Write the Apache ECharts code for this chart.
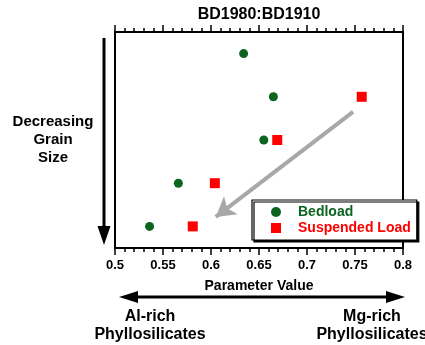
<!DOCTYPE html>
<html><head><meta charset="utf-8">
<script src="https://cdn.jsdelivr.net/npm/echarts@6/dist/echarts.min.js"></script>
<style>html,body{margin:0;padding:0;background:#fff}#c{width:425px;height:345px}</style>
</head><body><div id="c"></div>
<script>
// Data
const seriesNames = ['Bedload', 'Suspended Load'];
const bedloadX = [0.634, 0.665, 0.655, 0.566, 0.536];
const bedloadLevel = [1, 2, 3, 4, 5];
const suspendedX = [0.757, 0.669, 0.604, 0.581];
const suspendedLevel = [2, 3, 4, 5];
const xTicks = [0.5, 0.55, 0.6, 0.65, 0.7, 0.75, 0.8];
const trendArrow = [[0.748, 2.35], [0.605, 4.78]];

const GREEN = '#0b6420', RED = '#ff0000';
const FONT = 'Liberation Sans, Arial, sans-serif';
const chart = echarts.init(document.getElementById('c'), null, {renderer: 'canvas'});

const bed = bedloadX.map((x, i) => [x, bedloadLevel[i]]);
const sus = suspendedX.map((x, i) => [x, suspendedLevel[i]]);

chart.setOption({
  animation: false,
  title: {text: 'BD1980:BD1910', left: 254, top: 2, textAlign: 'center',
    textStyle: {fontFamily: FONT, fontWeight: 'bold', fontSize: 16, color: '#000'}},
  grid: {left: 115, top: 32, width: 288, height: 216},
  xAxis: [{
    type: 'value', min: xTicks[0], max: xTicks[xTicks.length - 1], interval: 0.05,
    position: 'bottom',
    name: 'Parameter Value', nameLocation: 'middle', nameGap: 31,
    nameTextStyle: {fontFamily: FONT, fontWeight: 'bold', fontSize: 14, color: '#000'},
    axisLine: {show: true, lineStyle: {color: '#000', width: 2}},
    axisTick: {show: true, length: 7, lineStyle: {color: '#000', width: 1.5}},
    minorTick: {show: true, splitNumber: 5, length: 4, lineStyle: {color: '#000', width: 1.5}},
    axisLabel: {fontFamily: FONT, fontWeight: 'bold', fontSize: 13, color: '#000', margin: 11,
      formatter: v => String(parseFloat(v.toFixed(2)))},
    splitLine: {show: false}
  }, {
    type: 'value', min: xTicks[0], max: xTicks[xTicks.length - 1], interval: 0.05,
    position: 'top',
    axisLine: {show: true, lineStyle: {color: '#000', width: 2}},
    axisTick: {show: true, length: 7, lineStyle: {color: '#000', width: 1.5}},
    minorTick: {show: true, splitNumber: 5, length: 4, lineStyle: {color: '#000', width: 1.5}},
    axisLabel: {show: false}, splitLine: {show: false}
  }],
  yAxis: [{
    type: 'value', min: 0.5, max: 5.5, inverse: true, position: 'left',
    axisLine: {show: true, lineStyle: {color: '#000', width: 2}},
    axisTick: {show: false}, axisLabel: {show: false}, splitLine: {show: false}
  }, {
    type: 'value', min: 0.5, max: 5.5, inverse: true, position: 'right',
    axisLine: {show: true, lineStyle: {color: '#000', width: 2}},
    axisTick: {show: false}, axisLabel: {show: false}, splitLine: {show: false}
  }],
  legend: {
    orient: 'vertical', left: 252, top: 200,
    padding: [5, 6, 5, 19], itemGap: 2,
    itemWidth: 10, itemHeight: 10,
    backgroundColor: '#fff', borderColor: '#000', borderWidth: 1.2,
    shadowColor: '#000', shadowBlur: 0, shadowOffsetX: 2, shadowOffsetY: 2,
    textStyle: {fontFamily: FONT, fontWeight: 'bold', fontSize: 14, padding: [0, 0, 0, 12]},
    data: [
      {name: seriesNames[0], icon: 'circle', textStyle: {color: GREEN}},
      {name: seriesNames[1], icon: 'rect', textStyle: {color: RED}}
    ]
  },
  series: [{
    name: seriesNames[0], type: 'scatter', data: bed, symbol: 'circle', symbolSize: 9,
    itemStyle: {color: GREEN, opacity: 1}
  }, {
    name: seriesNames[1], type: 'scatter', data: sus, symbol: 'rect', symbolSize: 10,
    itemStyle: {color: RED, opacity: 1}, z: 3,
    markLine: {
      silent: true, symbol: ['none', 'arrow'], symbolSize: [17, 19],
      lineStyle: {color: '#a8a8a8', width: 4, type: 'solid', opacity: 1},
      label: {show: false},
      data: [[{coord: trendArrow[0]}, {coord: trendArrow[1]}]]
    }
  }],
  graphic: [
    // left vertical arrow
    {type: 'line', shape: {x1: 104, y1: 38, x2: 104, y2: 230}, style: {stroke: '#000', lineWidth: 3}},
    {type: 'polygon', shape: {points: [[97.5, 226], [110.5, 226], [104, 245]]}, style: {fill: '#000'}},
    {type: 'text', style: {text: 'Decreasing\nGrain\nSize', x: 53, y: 113, align: 'center', lineHeight: 18,
      font: 'bold 15px ' + FONT, fill: '#000'}},
    // bottom double arrow
    {type: 'line', shape: {x1: 134, y1: 297, x2: 390, y2: 297}, style: {stroke: '#000', lineWidth: 3}},
    {type: 'polygon', shape: {points: [[119, 297], [138, 291], [138, 303]]}, style: {fill: '#000'}},
    {type: 'polygon', shape: {points: [[405, 297], [386, 291], [386, 303]]}, style: {fill: '#000'}},
    {type: 'text', style: {text: 'Al-rich\nPhyllosilicates', x: 150, y: 308, align: 'center', lineHeight: 18,
      font: 'bold 16px ' + FONT, fill: '#000'}},
    {type: 'text', style: {text: 'Mg-rich\nPhyllosilicates', x: 372, y: 308, align: 'center', lineHeight: 18,
      font: 'bold 16px ' + FONT, fill: '#000'}}
  ]
});
</script></body></html>
